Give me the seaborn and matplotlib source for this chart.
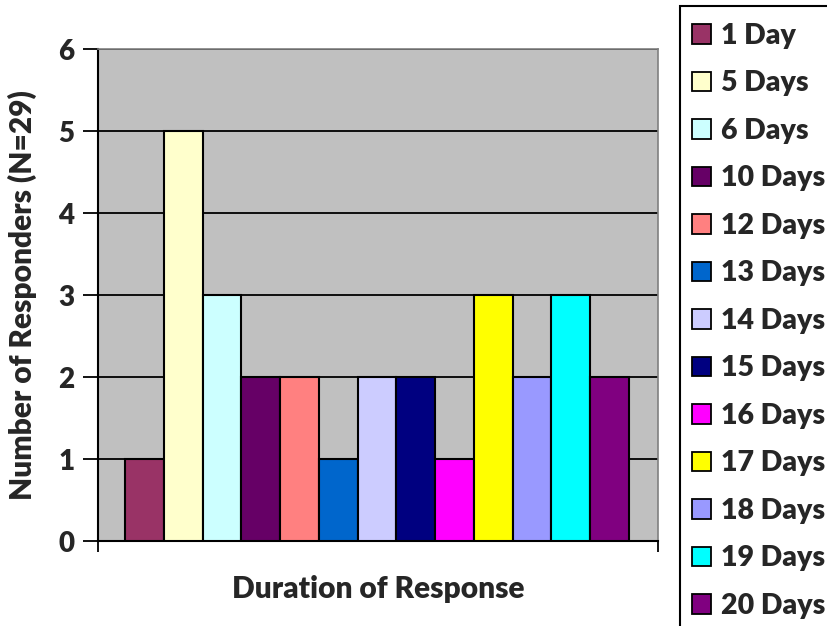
import matplotlib
matplotlib.use("Agg")
import matplotlib.pyplot as plt
import matplotlib.patches as mpatches
import seaborn as sns
import pandas as pd

# durasi respon dan jumlah responden
durasi = ["1 Day", "5 Days", "6 Days", "10 Days", "12 Days", "13 Days", "14 Days",
          "15 Days", "16 Days", "17 Days", "18 Days", "19 Days", "20 Days"]
jumlah = [1, 5, 3, 2, 2, 1, 2, 2, 1, 3, 2, 3, 2]
warna = ["#993366", "#FFFFCC", "#CCFFFF", "#660066", "#FF8080", "#0066CC", "#CCCCFF",
         "#000080", "#FF00FF", "#FFFF00", "#9999FF", "#00FFFF", "#800080"]

df = pd.DataFrame({"Durasi": durasi, "Jumlah": jumlah})

sns.set_style("white")
plt.rcParams["font.family"] = ["Lato", "DejaVu Sans"]
plt.rcParams["font.weight"] = "heavy"

fig = plt.figure(figsize=(8.28, 6.26), dpi=100)
ax = fig.add_axes([98/828, 1 - 541/626, 560/828, 492/626])
ax.set_facecolor("#C0C0C0")

sns.barplot(data=df, x="Durasi", y="Jumlah", hue="Durasi", palette=warna, saturation=1,
            width=1, edgecolor="black", linewidth=1.5, legend=False, ax=ax, zorder=3)

ax.set_xlim(-1.2, 13.25)
ax.set_ylim(0, 6)
ax.set_yticks(range(0, 7))
ax.yaxis.grid(True, color="black", linewidth=1.3, zorder=0)
ax.set_axisbelow(True)
ax.set_xticks([-1.2, 13.25])
ax.set_xticklabels(["", ""])
ax.tick_params(axis="x", direction="out", length=8, width=1.3, color="black", bottom=True)
ax.tick_params(axis="y", direction="out", length=11, width=1.3, color="black", left=True,
               labelsize=20, pad=6)
for lab in ax.get_yticklabels():
    lab.set_fontweight("heavy")

for s in ["top", "right"]:
    ax.spines[s].set_color("#808080")
    ax.spines[s].set_linewidth(1.2)
for s in ["left", "bottom"]:
    ax.spines[s].set_color("black")
    ax.spines[s].set_linewidth(1.5)

ax.set_xlabel("Duration of Response", fontsize=21.5, fontweight="heavy", labelpad=13)
ax.set_ylabel("Number of Responders (N=29)", fontsize=21.5, fontweight="heavy", labelpad=15)

# legenda manual di sebelah kanan
handles = [mpatches.Patch(facecolor=c, edgecolor="black", linewidth=1.3) for c in warna]
fig.legend(handles, durasi, loc="upper left", bbox_to_anchor=(692/828, 1 - 23/626),
           frameon=False, prop={"weight": "heavy", "size": 20.5},
           handlelength=0.66, handleheight=0.66, handletextpad=0.35,
           labelspacing=0.755, borderpad=0, borderaxespad=0)
fig.patches.append(mpatches.Rectangle((680/828, -0.1), 0.3, 1.1 - 6/626,
                                      transform=fig.transFigure, fill=False,
                                      edgecolor="black", linewidth=1.5))

fig.savefig("out.png", dpi=100)
